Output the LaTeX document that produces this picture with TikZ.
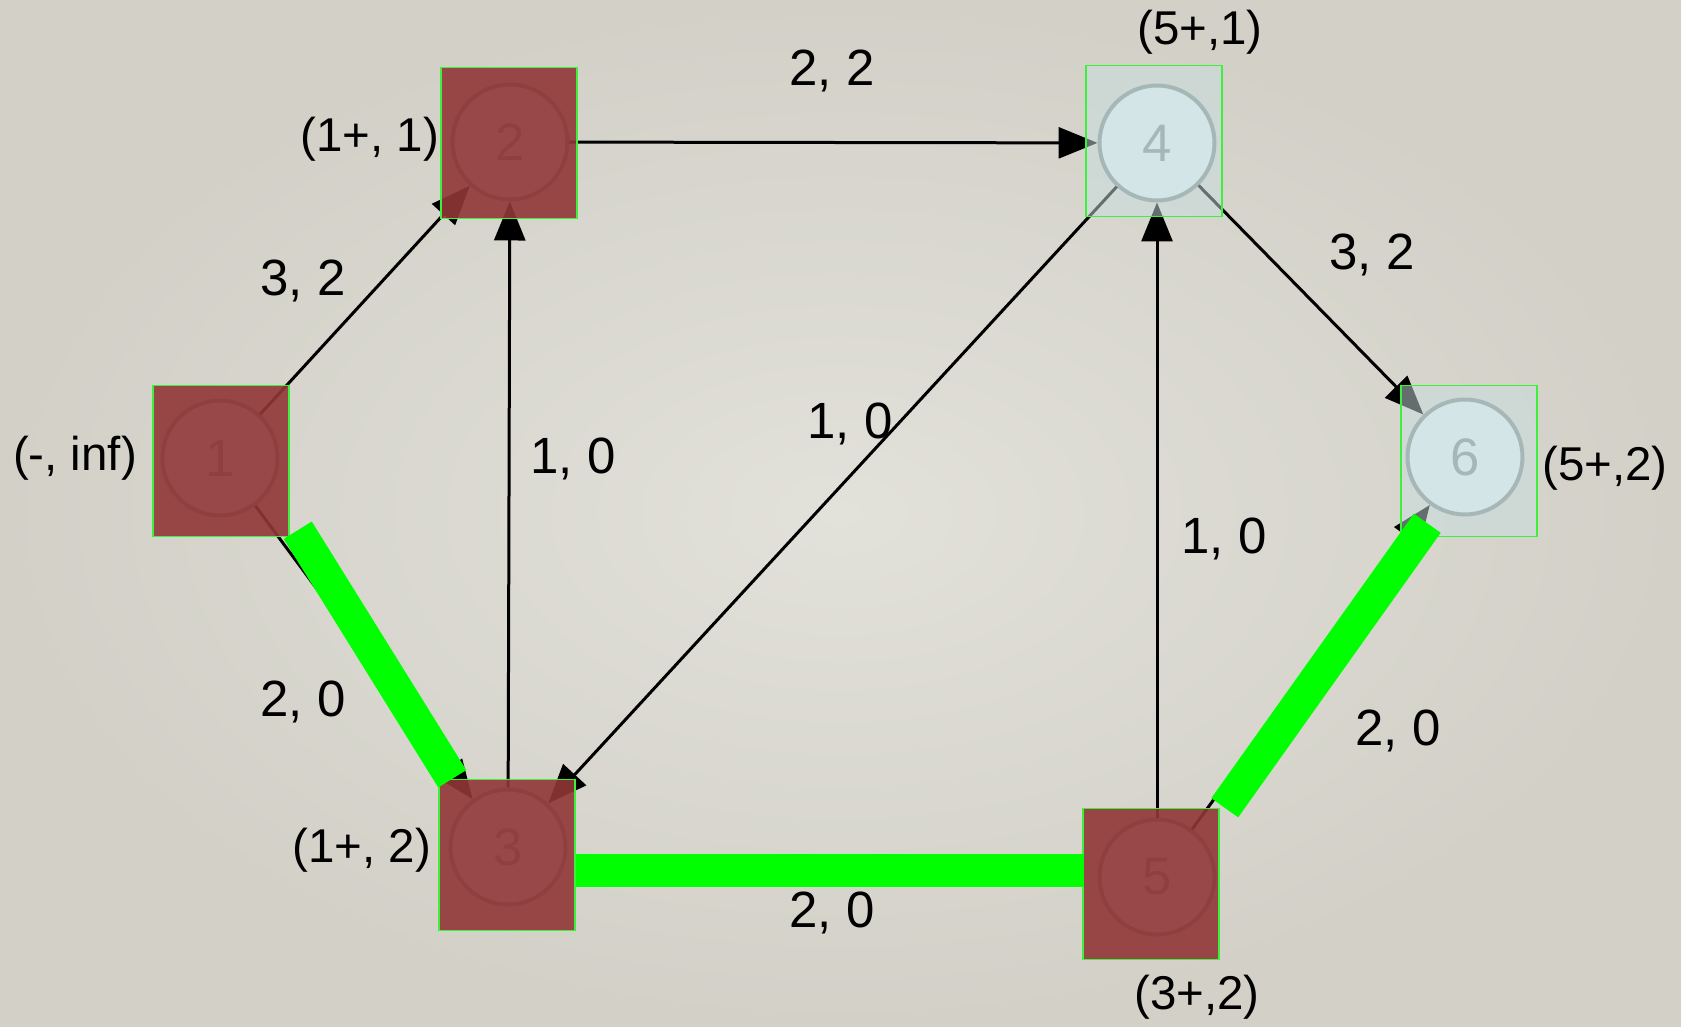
\documentclass[tikz,border=0pt]{standalone}
\usepackage{fontspec}
\setmainfont{Liberation Sans}
\usetikzlibrary{arrows.meta}

\definecolor{paperin}{HTML}{E2E1DA}
\definecolor{paperout}{HTML}{D2D0C7}
\definecolor{ringgray}{HTML}{849192}
\definecolor{ringfill}{HTML}{E0EEEF}
\definecolor{boxred}{HTML}{913737}
\definecolor{boxblue}{HTML}{C8DDDE}
\definecolor{boxgreen}{HTML}{3CF03C}
\definecolor{flowgreen}{HTML}{00FF00}

\begin{document}
\begin{tikzpicture}[
			x=0.02cm, y=-0.02cm,
			>={Triangle[length=0.78cm,width=0.62cm]},
			vertex/.style={circle, draw=ringgray, fill=ringfill, line width=0.08cm,
				minimum size=2.3cm, inner sep=0pt, text=ringgray,
				font=\fontsize{30}{30}\selectfont},
			redbox/.style={rectangle, draw=boxgreen, line width=0.03cm,
				fill=boxred, fill opacity=0.9, minimum width=2.72cm,
				minimum height=3.02cm, inner sep=0pt},
			bluebox/.style={redbox, fill=boxblue, fill opacity=0.5},
			arc/.style={line width=0.06cm},
			flow/.style={line width=0.66cm, draw=flowgreen},
			weight/.style={font=\fontsize{29}{31}\selectfont},
			tag/.style={font=\fontsize{27}{29}\selectfont}
		]
			% Hintergrund
			\useasboundingbox (0,0) rectangle (1681,1027);
			\shade[inner color=paperin, outer color=paperout] (0,0) rectangle (1681,1027);

			% Knoten
			\node[vertex] (c1) at (220,458) {1};
			\node[vertex] (c2) at (510,142) {2};
			\node[vertex] (c3) at (508,847) {3};
			\node[vertex] (c4) at (1157,143) {4};
			\node[vertex] (c5) at (1157,877) {5};
			\node[vertex] (c6) at (1465,457) {6};

			% Kanten
			\path[->, arc]
				(c1) edge (c2)
				(c1) edge (c3)
				(c2) edge (c4)
				(c3) edge (c2)
				(c4) edge (c3)
				(c4) edge (c6)
				(c5) edge (c4)
				(c5) edge (c6);

			% Markierung
			\node[redbox] (b1) at (221,461) {};
			\node[redbox] (b2) at (509,143) {};
			\node[redbox] (b3) at (507,855) {};
			\node[bluebox] (b4) at (1154,141) {};
			\node[redbox] (b5) at (1151,884) {};
			\node[bluebox] (b6) at (1469,461) {};

			% augmentierender Pfad
			\draw[flow] ([shift={(8,-7)}]b1.south east) -- ([shift={(14,0)}]b3.north west);
			\draw[flow] ([shift={(0,15)}]b3.east) -- ([shift={(2,-14)}]b5.west);
			\draw[flow] ([shift={(5,0)}]b5.north east) -- ([shift={(27,-14)}]b6.south west);

			% Kapazitaet, Fluss
			\node[weight] (w12) at (303,281) {3, 2};
			\node[weight] (w13) at (303,702) {2, 0};
			\node[weight] (w24) at (832,71) {2, 2};
			\node[weight] (w32) at (573,459) {1, 0};
			\node[weight] (w35) at (832,913) {2, 0};
			\node[weight] (w43) at (850,424) {1, 0};
			\node[weight] (w46) at (1372,255) {3, 2};
			\node[weight] (w54) at (1224,539) {1, 0};
			\node[weight] (w56) at (1398,731) {2, 0};

			% Marken
			\node[tag] (l1) at (75,458) {(-, inf)};
			\node[tag] (l2) at (370,139) {(1+, 1)};
			\node[tag] (l3) at (362,850) {(1+, 2)};
			\node[tag] (l4) at (1200,32) {(5+,1)};
			\node[tag] (l5) at (1197,997) {(3+,2)};
			\node[tag] (l6) at (1605,468) {(5+,2)};
		\end{tikzpicture}
\end{document}
